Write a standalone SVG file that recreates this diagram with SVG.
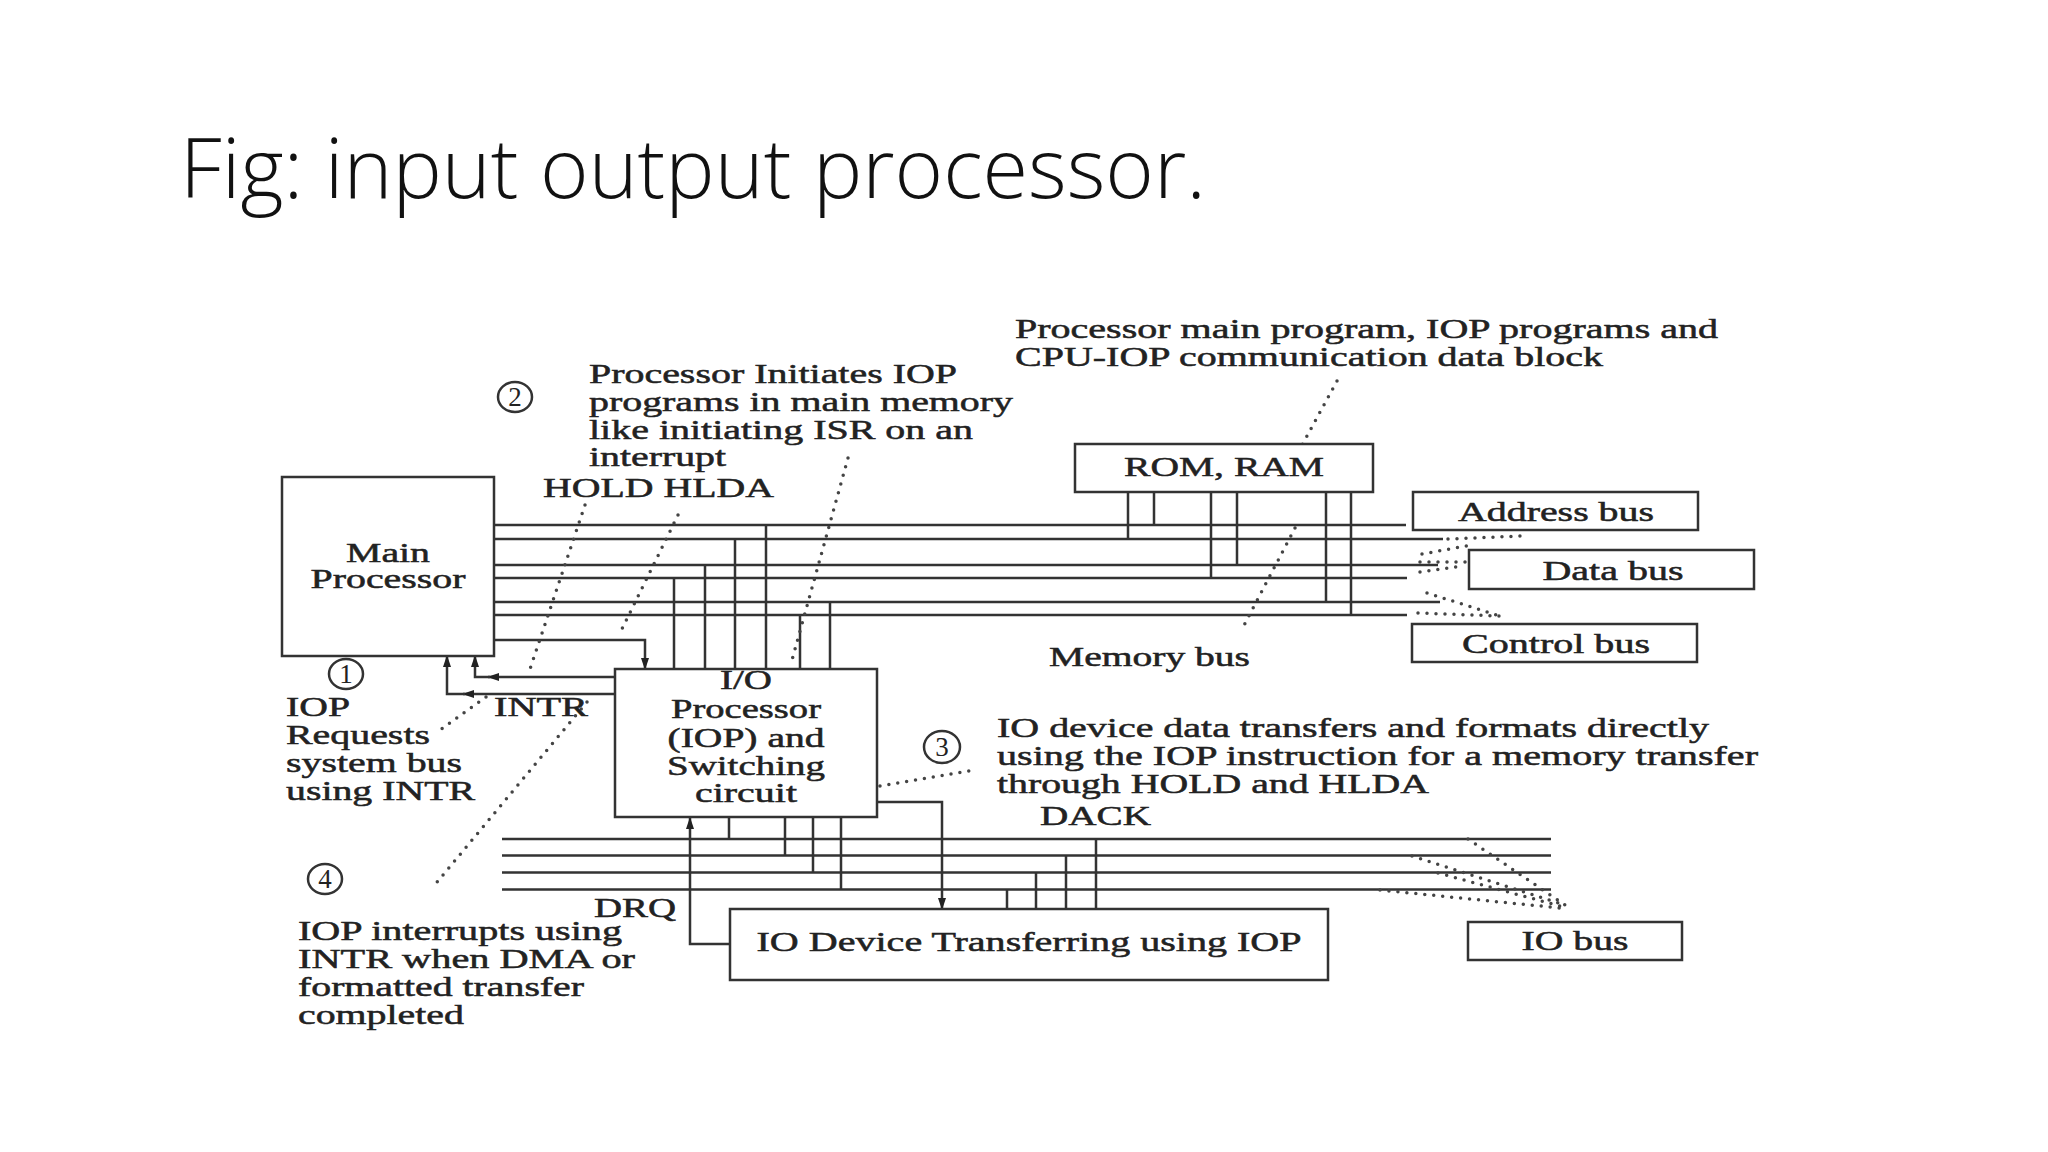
<svg xmlns="http://www.w3.org/2000/svg" width="2048" height="1152" viewBox="0 0 2048 1152">
<defs>
<style>
.title{font-family:"Open Sans","Lato","Liberation Sans",sans-serif;font-weight:300;font-size:83px;fill:#111}
.t{font-family:"Liberation Serif","Times New Roman",serif;font-size:27px;fill:#222;stroke:#222;stroke-width:0.5}
.c{text-anchor:middle}
.n{font-family:"Liberation Serif","Times New Roman",serif;font-size:27px;fill:#222;text-anchor:middle}
.box{fill:#fff;stroke:#333;stroke-width:2.5}
.ln{fill:none;stroke:#333;stroke-width:2.5}
.ar{fill:none;stroke:#333;stroke-width:2.5;marker-end:url(#ah)}
.dot{fill:none;stroke:#444;stroke-width:3.5;stroke-linecap:round;stroke-dasharray:0 9}
.circ{fill:none;stroke:#333;stroke-width:2.5}
</style>
<marker id="ah" viewBox="0 0 12 12" refX="11" refY="6" markerWidth="12" markerHeight="12" markerUnits="userSpaceOnUse" orient="auto">
<path d="M0,2 L12,6 L0,10 Z" fill="#222"/>
</marker>
</defs>
<rect width="2048" height="1152" fill="#fff"/>
<text class="title" x="180" y="198" textLength="1026" lengthAdjust="spacingAndGlyphs">Fig: input output processor.</text>

<g id="connectors">
<!-- memory bus lines -->
<path class="ln" d="M494,525 H1406 M494,539 H1443 M494,565 H1438 M494,578 H1407 M494,602 H1440 M494,615 H1407"/>
<!-- ROM drops -->
<path class="ln" d="M1128,492 V539 M1154,492 V525 M1211,492 V578 M1237,492 V565 M1326,492 V602 M1351,492 V615"/>
<!-- IOP top drops -->
<path class="ln" d="M674,578 V669 M705,565 V669 M735,539 V669 M766,525 V669 M800,615 V669 M830,602 V669"/>
<!-- main to IOP arrow -->
<path class="ar" d="M494,640 H645 V669"/>
<!-- INTR lines -->
<path class="ar" d="M615,677 H488"/>
<path class="ar" d="M490,677 H475 V656"/>
<path class="ar" d="M615,694 H463"/>
<path class="ar" d="M465,694 H447 V656"/>
<!-- IO bus lines -->
<path class="ln" d="M502,839 H1551 M502,855.5 H1551 M502,872.5 H1551 M502,889.5 H1551"/>
<path class="ln" d="M729,817 V839 M785,817 V855.5 M813,817 V872.5 M841,817 V889.5"/>
<path class="ln" d="M1007,909 V889.5 M1036,909 V872.5 M1066,909 V855.5 M1096,909 V839"/>
<!-- DRQ -->
<path class="ar" d="M730,944 H690 V818"/>
<!-- IOP to IO device -->
<path class="ar" d="M877,802 H942 V909"/>
<!-- dotted leaders -->
<path class="dot" d="M585,505 L528,675"/>
<path class="dot" d="M678,515 L619,635"/>
<path class="dot" d="M848,458 L792,660"/>
<path class="dot" d="M1337,381 L1301,447"/>
<path class="dot" d="M1295,528 L1241,631"/>
<path class="dot" d="M486,697 L440,730"/>
<path class="dot" d="M587,702 L433,887"/>
<path class="dot" d="M880,786 L975,770"/>
<!-- system bus fans -->
<path class="dot" d="M1448,539 L1522,536"/>
<path class="dot" d="M1422,554 L1472,545"/>
<path class="dot" d="M1420,562 L1468,562"/>
<path class="dot" d="M1420,572 L1462,566"/>
<path class="dot" d="M1427,593 L1500,616"/>
<path class="dot" d="M1418,613 L1500,616"/>
<!-- IO bus fans -->
<path class="dot" d="M1468,839 L1565,905"/>
<path class="dot" d="M1412,856 L1565,905"/>
<path class="dot" d="M1438,873 L1560,906"/>
<path class="dot" d="M1380,890 L1560,908"/>
</g>

<g id="main-processor">
<rect class="box" x="282" y="477" width="212" height="179"/>
<text class="t c" x="388" y="562" textLength="84" lengthAdjust="spacingAndGlyphs">Main</text>
<text class="t c" x="388" y="588" textLength="155" lengthAdjust="spacingAndGlyphs">Processor</text>
</g>

<g id="rom-ram">
<rect class="box" x="1075" y="444" width="298" height="48"/>
<text class="t c" x="1224" y="476" textLength="200" lengthAdjust="spacingAndGlyphs">ROM, RAM</text>
</g>

<g id="address-bus">
<rect class="box" x="1413" y="492" width="285" height="38"/>
<text class="t c" x="1556" y="521" textLength="196" lengthAdjust="spacingAndGlyphs">Address bus</text>
</g>

<g id="data-bus">
<rect class="box" x="1469" y="550" width="285" height="39"/>
<text class="t c" x="1613" y="580" textLength="141" lengthAdjust="spacingAndGlyphs">Data bus</text>
</g>

<g id="control-bus">
<rect class="box" x="1412" y="624" width="285" height="38"/>
<text class="t c" x="1556" y="653" textLength="188" lengthAdjust="spacingAndGlyphs">Control bus</text>
</g>

<g id="iop">
<rect class="box" x="615" y="669" width="262" height="148"/>
<text class="t c" x="746" y="689" textLength="52" lengthAdjust="spacingAndGlyphs">I/O</text>
<text class="t c" x="746" y="718" textLength="150" lengthAdjust="spacingAndGlyphs">Processor</text>
<text class="t c" x="746" y="747" textLength="157" lengthAdjust="spacingAndGlyphs">(IOP) and</text>
<text class="t c" x="746" y="775" textLength="158" lengthAdjust="spacingAndGlyphs">Switching</text>
<text class="t c" x="746" y="802" textLength="102" lengthAdjust="spacingAndGlyphs">circuit</text>
</g>

<g id="io-device">
<rect class="box" x="730" y="909" width="598" height="71"/>
<text class="t c" x="1029" y="951" textLength="545" lengthAdjust="spacingAndGlyphs">IO Device Transferring using IOP</text>
</g>

<g id="io-bus">
<rect class="box" x="1468" y="922" width="214" height="38"/>
<text class="t c" x="1575" y="950" textLength="107" lengthAdjust="spacingAndGlyphs">IO bus</text>
</g>

<g id="labels">
<text class="t" x="1015" y="338" textLength="703" lengthAdjust="spacingAndGlyphs">Processor main program, IOP programs and</text>
<text class="t" x="1015" y="366" textLength="588" lengthAdjust="spacingAndGlyphs">CPU-IOP communication data block</text>
<text class="t" x="589" y="383" textLength="368" lengthAdjust="spacingAndGlyphs">Processor Initiates IOP</text>
<text class="t" x="589" y="411" textLength="424" lengthAdjust="spacingAndGlyphs">programs in main memory</text>
<text class="t" x="589" y="439" textLength="384" lengthAdjust="spacingAndGlyphs">like initiating ISR on an</text>
<text class="t" x="589" y="466" textLength="137" lengthAdjust="spacingAndGlyphs">interrupt</text>
<text class="t" x="543" y="497" textLength="231" lengthAdjust="spacingAndGlyphs">HOLD HLDA</text>
<text class="t" x="286" y="716" textLength="64" lengthAdjust="spacingAndGlyphs">IOP</text>
<text class="t" x="286" y="744" textLength="144" lengthAdjust="spacingAndGlyphs">Requests</text>
<text class="t" x="286" y="772" textLength="176" lengthAdjust="spacingAndGlyphs">system bus</text>
<text class="t" x="286" y="800" textLength="189" lengthAdjust="spacingAndGlyphs">using INTR</text>
<text class="t" x="494" y="716" textLength="94" lengthAdjust="spacingAndGlyphs">INTR</text>
<text class="t" x="1049" y="666" textLength="201" lengthAdjust="spacingAndGlyphs">Memory bus</text>
<text class="t" x="997" y="737" textLength="712" lengthAdjust="spacingAndGlyphs">IO device data transfers and formats directly</text>
<text class="t" x="997" y="765" textLength="761" lengthAdjust="spacingAndGlyphs">using the IOP instruction for a memory transfer</text>
<text class="t" x="997" y="793" textLength="432" lengthAdjust="spacingAndGlyphs">through HOLD and HLDA</text>
<text class="t" x="1040" y="825" textLength="111" lengthAdjust="spacingAndGlyphs">DACK</text>
<text class="t" x="594" y="917" textLength="82" lengthAdjust="spacingAndGlyphs">DRQ</text>
<text class="t" x="298" y="940" textLength="324" lengthAdjust="spacingAndGlyphs">IOP interrupts using</text>
<text class="t" x="298" y="968" textLength="337" lengthAdjust="spacingAndGlyphs">INTR when DMA or</text>
<text class="t" x="298" y="996" textLength="286" lengthAdjust="spacingAndGlyphs">formatted transfer</text>
<text class="t" x="298" y="1024" textLength="166" lengthAdjust="spacingAndGlyphs">completed</text>
</g>

<g id="step-markers">
<ellipse class="circ" cx="346" cy="674" rx="17" ry="15"/><text class="n" x="346" y="683">1</text>
<ellipse class="circ" cx="515" cy="397" rx="17" ry="15"/><text class="n" x="515" y="406">2</text>
<ellipse class="circ" cx="942" cy="747" rx="18" ry="16"/><text class="n" x="942" y="756">3</text>
<ellipse class="circ" cx="325" cy="879" rx="17" ry="15"/><text class="n" x="325" y="888">4</text>
</g>
</svg>
